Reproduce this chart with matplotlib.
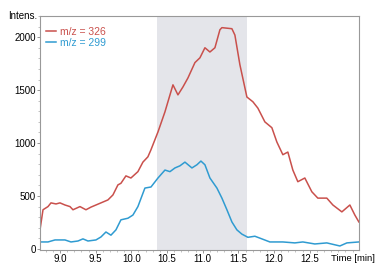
import matplotlib.pyplot as plt
from matplotlib.ticker import MultipleLocator

# retention time (min) and intensity
t_326 = [8.720, 8.762, 8.832, 8.874, 8.944, 9.000, 9.070, 9.140, 9.182, 9.280,
         9.364, 9.434, 9.574, 9.672, 9.742, 9.812, 9.854, 9.924, 9.994, 10.092,
         10.162, 10.232, 10.274, 10.373, 10.471, 10.583, 10.653, 10.723, 10.793, 10.891,
         10.961, 11.031, 11.101, 11.171, 11.241, 11.269, 11.409, 11.451, 11.521, 11.619,
         11.703, 11.773, 11.871, 11.969, 12.039, 12.123, 12.193, 12.263, 12.333, 12.431,
         12.529, 12.613, 12.739, 12.824, 12.950, 13.062, 13.132, 13.188]
i_326 = [180, 370, 400, 435, 425, 435, 415, 400, 370, 400,
         370, 395, 435, 463, 510, 605, 620, 690, 670, 730,
         820, 870, 935, 1105, 1295, 1550, 1455, 1530, 1615, 1760,
         1805, 1900, 1860, 1900, 2070, 2090, 2080, 2020, 1740, 1435,
         1390, 1330, 1200, 1145, 1010, 890, 915, 745, 635, 670,
         540, 480, 480, 415, 350, 415, 320, 255]

t_299 = [8.720, 8.832, 8.930, 9.070, 9.154, 9.252, 9.322, 9.392, 9.504, 9.574,
         9.644, 9.714, 9.784, 9.854, 9.952, 10.022, 10.092, 10.190, 10.275, 10.373,
         10.471, 10.541, 10.611, 10.681, 10.751, 10.849, 10.919, 10.975, 11.031, 11.101,
         11.199, 11.269, 11.339, 11.409, 11.479, 11.549, 11.633, 11.731, 11.829, 11.941,
         12.123, 12.291, 12.403, 12.571, 12.739, 12.922, 13.020, 13.188]
i_299 = [66, 66, 85, 85, 66, 75, 95, 75, 85, 113,
         160, 130, 180, 275, 290, 320, 400, 575, 585, 670,
         745, 730, 765, 785, 820, 765, 795, 830, 795, 670,
         575, 480, 370, 255, 180, 140, 110, 120, 95, 66,
         66, 57, 66, 47, 57, 28, 57, 66]

window = (10.36, 11.62)
labels = ['m/z = 326', 'm/z = 299']
colors = ['#c9504c', '#2f9bd1']

plt.rcParams['font.family'] = ['Liberation Sans', 'DejaVu Sans']

fig = plt.figure(figsize=(3.79, 2.64), dpi=100)
ax = fig.add_axes([40 / 379, 1 - 250 / 264, 319 / 379, 234 / 264])

ax.axvspan(*window, color='#e4e5ea', lw=0, zorder=0)
ax.plot(t_326, i_326, color=colors[0], lw=1.1, label=labels[0])
ax.plot(t_299, i_299, color=colors[1], lw=1.1, label=labels[1])

ax.set_xlim(8.72, 13.19)
ax.set_ylim(-10, 2200)
ax.xaxis.set_minor_locator(MultipleLocator(0.1))
ax.yaxis.set_major_locator(MultipleLocator(500))
ax.yaxis.set_minor_locator(MultipleLocator(100))
ax.set_xticks([9.0, 9.5, 10.0, 10.5, 11.0, 11.5, 12.0, 12.5])
ax.tick_params(labelsize=7, color='#888888', length=2, width=0.6, pad=1)
ax.tick_params(which='minor', color='#aaaaaa', length=1.2, width=0.5)
for s in ax.spines.values():
    s.set_color('#999999')
    s.set_linewidth(0.8)

ax.text(-0.01, 1.0, 'Intens.', transform=ax.transAxes, ha='right', va='center', fontsize=7)
# x-axis title sits where the 13.0 tick label would be
ax.annotate('Time [min]', xy=(1.0, 0), xycoords='axes fraction',
            xytext=(-20, -3), textcoords='offset points', ha='left', va='top', fontsize=6.8)

ax.legend(loc='upper left', bbox_to_anchor=(0.0, 0.98), frameon=False, fontsize=7.5,
          handlelength=0.9, handletextpad=0.4, labelspacing=0.1, labelcolor='linecolor',
          borderaxespad=0.2)

fig.savefig('out.png', dpi=100)
